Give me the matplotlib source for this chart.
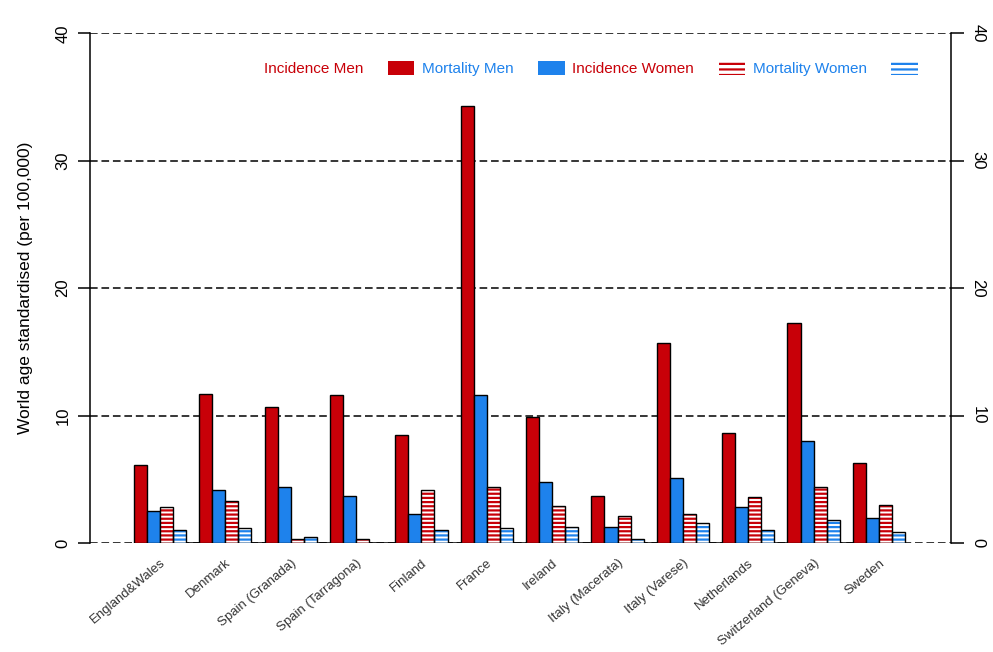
import matplotlib.pyplot as plt
import numpy as np
from matplotlib.patches import Patch

plt.rcParams['font.family'] = ['Liberation Sans', 'DejaVu Sans']
plt.rcParams['hatch.linewidth'] = 1.6

# values (per 100,000, world age standardised)
countries = ["England&Wales", "Denmark", "Spain (Granada)", "Spain (Tarragona)",
             "Finland", "France", "Ireland", "Italy (Macerata)", "Italy (Varese)",
             "Netherlands", "Switzerland (Geneva)", "Sweden"]
inc_men = [6.1, 11.7, 10.7, 11.6, 8.5, 34.3, 9.9, 3.7, 15.7, 8.6, 17.3, 6.3]
mort_men = [2.5, 4.2, 4.4, 3.7, 2.3, 11.6, 4.8, 1.3, 5.1, 2.8, 8.0, 2.0]
inc_women = [2.8, 3.3, 0.3, 0.3, 4.2, 4.4, 2.9, 2.1, 2.3, 3.6, 4.4, 3.0]
mort_women = [1.05, 1.2, 0.45, 0.0, 1.05, 1.2, 1.3, 0.3, 1.6, 1.05, 1.8, 0.9]
series_labels = ["Incidence Men", "Mortality Men", "Incidence Women", "Mortality Women"]
yticks = [0, 10, 20, 30, 40]

RED = "#C80008"
BLUE = "#1E82EC"

fig = plt.figure(figsize=(9.93, 6.52), dpi=100)
ax = fig.add_axes([0.0906, 0.167, 0.867, 0.782])

n = len(countries)
# R barplot style: 4 bars per group, one bar-width gap before each group
starts = 1 + 5 * np.arange(n)
centers = starts + 2.0

ax.bar(starts + 0.5, inc_men, width=1, color=RED, edgecolor="black", lw=1, zorder=3)
ax.bar(starts + 1.5, mort_men, width=1, color=BLUE, edgecolor="black", lw=1, zorder=3)
ax.bar(starts + 2.5, inc_women, width=1, color="white", edgecolor=RED, hatch="----", lw=0, zorder=3)
ax.bar(starts + 2.5, inc_women, width=1, fill=False, edgecolor="black", lw=1, zorder=4)
ax.bar(starts + 3.5, mort_women, width=1, color="white", edgecolor=BLUE, hatch="----", lw=0, zorder=3)
ax.bar(starts + 3.5, mort_women, width=1, fill=False, edgecolor="black", lw=1, zorder=4)
# solid baseline under the bar block
ax.hlines(0, starts[0], starts[-1] + 4, color="black", lw=1.1, zorder=2)

ax.set_xlim(-2.35, 63.5)
ax.set_ylim(0, 40)
ax.set_yticks(yticks)
ax.grid(axis="y", color="black", linestyle=(0, (5, 2.5)), lw=1.1, zorder=1)

for side in ["top", "bottom"]:
    ax.spines[side].set_visible(False)
ax.spines["left"].set_linewidth(1.1)
ax.spines["right"].set_linewidth(1.1)

ax.tick_params(axis="y", which="both", left=True, right=True, labelleft=True, labelright=True,
               length=9, width=1.1, labelsize=12, pad=5)
for t in ax.yaxis.get_major_ticks():
    t.label1.set_rotation(90)
    t.label2.set_rotation(-90)
    t.label1.set_va("center")
    t.label2.set_va("center")

ax.set_xticks(centers)
ax.set_xticklabels(countries, rotation=40, ha="right", rotation_mode="anchor",
                   fontsize=9.5, color="#333333")
ax.tick_params(axis="x", length=0, pad=10)

ax.set_ylabel("World age standardised (per 100,000)", fontsize=12.5, labelpad=16)

handles = [Patch(facecolor=RED, lw=0),
           Patch(facecolor=BLUE, lw=0),
           Patch(facecolor="white", edgecolor=RED, hatch="---", lw=0),
           Patch(facecolor="white", edgecolor=BLUE, hatch="---", lw=0)]
ax.legend(handles, series_labels, ncol=4, markerfirst=False, frameon=False,
          loc="center right", bbox_to_anchor=(0.978, 0.931), fontsize=11,
          labelcolor=[RED, BLUE, RED, BLUE], handlelength=1.75, handleheight=1.1,
          handletextpad=1.6, columnspacing=0.5)

fig.savefig("out.png", dpi=100)
